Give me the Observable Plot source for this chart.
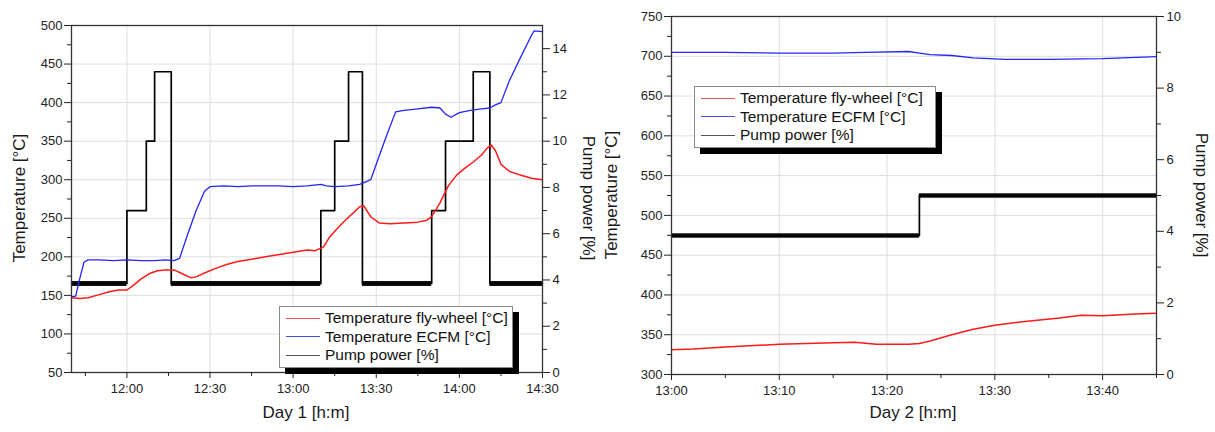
<!DOCTYPE html>
<html><head><meta charset="utf-8">
<script src="https://cdn.jsdelivr.net/npm/d3@7"></script>
<script src="https://cdn.jsdelivr.net/npm/@observablehq/plot@0.6"></script>
<style>
body{margin:0;background:#fff;font-family:"Liberation Sans",Arial,sans-serif;}
#wrap{position:relative;width:1215px;height:432px;overflow:hidden;background:#fff;}
.panel{position:absolute;top:0;}
.title{position:absolute;font-size:17px;color:#1a1a1a;white-space:nowrap;transform:translate(-50%,-50%);}
.title.rl{transform:translate(-50%,-50%) rotate(-90deg);}
.title.rr{transform:translate(-50%,-50%) rotate(90deg);}
.legend{position:absolute;box-sizing:border-box;background:#fff;border:1px solid #8a8a8a;box-shadow:6px 6px 0 #000;font-size:15.5px;color:#111;padding:2px 4px 2px 0;}
.legend .row{display:flex;align-items:center;height:18.5px;white-space:nowrap;}
.legend .sw{width:34px;height:0;border-top:1.5px solid;margin:0 5px 0 6px;}
</style></head><body><div id="wrap"></div>
<script>
// ---------- Day 1 data ----------
const day1FlyTimes = ["11:40","11:43","11:46","11:50","11:54","11:57","12:00","12:02","12:05","12:08","12:11","12:14","12:17","12:20","12:23","12:25","12:28","12:32","12:36","12:40","12:45","12:50","12:55","13:00","13:05","13:08","13:11","13:13","13:16","13:19","13:22","13:24","13:25.5","13:28","13:31","13:35","13:40","13:45","13:48","13:50","13:53","13:56","13:59","14:02","14:05","14:08","14:10","14:11.5","14:13","14:15","14:18","14:22","14:26","14:30"];
const day1FlyValues = [147,146,147,151,155,157,157,162,171,178,182,183,183,178,173,174,179,185,190,194,197,200,203,206,209,208,213,225,237,248,258,265,266,252,244,243,244,245,247,252,270,292,306,315,323,332,341,345,338,320,311,306,302,300];
const day1EcfmTimes = ["11:40","11:41.5","11:43","11:44.5","11:46","11:50","11:55","12:00","12:05","12:10","12:14","12:17","12:19","12:22","12:25","12:28","12:30","12:35","12:40","12:45","12:50","12:55","13:00","13:05","13:10","13:12","13:15","13:20","13:24","13:26","13:28","13:31","13:34","13:37","13:40","13:45","13:50","13:53","13:55","13:57","14:00","14:04","14:08","14:11","14:13","14:15","14:18","14:22","14:26","14:27","14:30"];
const day1EcfmValues = [148,149,172,193,196,196,195,196,195,195,196,195,198,230,260,285,291,292,291,292,292,292,291,292,294,292,291,292,294,297,300,330,360,388,390,392,394,393,385,381,387,390,392,393,397,400,428,458,487,493,492];
const day1PumpTimes = ["11:40","12:00","12:07","12:10","12:16","13:10","13:15","13:20","13:25","13:50","13:55","14:05","14:11","14:30"];
const day1PumpValues = [3.85,7.0,10.0,13.0,3.85,7.0,10.0,13.0,3.85,7.0,10.0,13.0,3.85,3.85];
const day1TempTicks = [50,100,150,200,250,300,350,400,450,500];
const day1PumpTicks = [0,2,4,6,8,10,12,14];
const day1TimeTicks = ["12:00","12:30","13:00","13:30","14:00","14:30"];
const day1TimeMinor = ["11:45","12:15","12:45","13:15","13:45","14:15"];

// ---------- Day 2 data ----------
const day2FlyTimes = ["13:00","13:02","13:05","13:10","13:15","13:17","13:19","13:22","13:23","13:24","13:26","13:28","13:30","13:33","13:36","13:38","13:40","13:43","13:45"];
const day2FlyValues = [331,332,334.5,338,340,340.5,338,338,339,342,350,357,362,367,371,374.5,374,376,377];
const day2EcfmTimes = ["13:00","13:05","13:10","13:15","13:18","13:22","13:23","13:24","13:26","13:28","13:31","13:35","13:40","13:45"];
const day2EcfmValues = [705,705,704,704,705,706,704,702,701,698,696,696,697,699.5];
const day2PumpTimes = ["13:00","13:23","13:45"];
const day2PumpValues = [3.88,5.0,5.0];
const day2TempTicks = [300,350,400,450,500,550,600,650,700,750];
const day2PumpTicks = [0,2,4,6,8,10];
const day2TimeTicks = ["13:00","13:10","13:20","13:30","13:40"];
const day2TimeMinor = ["13:05","13:15","13:25","13:35","13:45"];

const seriesNames = ["Temperature fly-wheel [°C]","Temperature ECFM [°C]","Pump power [%]"];
const seriesColors = ["#ff1a1a","#2424ff","#000000"];
const legendColors = ["#f05050","#4050f0","#555555"];

// ---------- helpers ----------
function T(s){const [h,m]=s.split(":");return new Date(2000,0,1,+h,0,0,Math.round(+m*60000));}
const zipS = (ts,vs) => ts.map((t,i)=>({t:T(t),v:vs[i]}));
const zipP = (ts,vs) => ts.map((t,i)=>({t:T(t),p:vs[i]}));
const mids = a => a.slice(0,-1).map((v,i)=>(v+a[i+1])/2);
const fmt = d3.timeFormat("%H:%M");

function makePanel(c){
  const [y0,y1]=c.yDom,[p0,p1]=c.pDom;
  const toT = p => y0+(p-p0)*(y1-y0)/(p1-p0);
  const fromT = t => p0+(t-y0)*(p1-p0)/(y1-y0);
  const segs=[];
  for(let i=0;i<c.pump.length-1;i++) if(c.pump[i].p<=c.bandMax) segs.push({x1:c.pump[i].t,x2:c.pump[i+1].t,y:toT(c.pump[i].p)});
  const pMinor = mids(c.pTicks);
  return Plot.plot({
    width:c.width,height:432,marginLeft:c.mL,marginRight:c.mR,marginTop:c.mT,marginBottom:c.mB,
    x:{type:"time",domain:c.xDom},
    y:{domain:c.yDom},
    style:{fontFamily:"'Liberation Sans',Arial,sans-serif",fontSize:"13px",color:"#222",background:"transparent",overflow:"visible"},
    marks:[
      Plot.gridY(c.yTicks,{stroke:"#dedede",strokeOpacity:1}),
      Plot.gridX(c.xTicks,{stroke:"#dedede",strokeOpacity:1}),
      Plot.ruleY(segs,{x1:"x1",x2:"x2",y:"y",stroke:"#111",strokeWidth:c.bandWidth}),
      Plot.line(c.pump,{x:"t",y:d=>toT(d.p),curve:"step-after",stroke:seriesColors[2],strokeWidth:1.7}),
      Plot.line(c.ecfm,{x:"t",y:"v",stroke:seriesColors[1],strokeWidth:1.3}),
      Plot.line(c.fly,{x:"t",y:"v",stroke:seriesColors[0],strokeWidth:1.5}),
      Plot.frame({stroke:"#333",strokeWidth:1.3}),
      Plot.axisY(c.yTicks,{anchor:"left",tickSize:7,tickPadding:2,label:null}),
      Plot.axisY(mids(c.yTicks),{anchor:"left",tickSize:4,tickFormat:()=>"",label:null}),
      Plot.axisY(c.pTicks.map(toT),{anchor:"right",tickSize:7,tickPadding:3,tickFormat:t=>String(Math.round(fromT(t))),label:null}),
      Plot.axisY(pMinor.map(toT),{anchor:"right",tickSize:4,tickFormat:()=>"",label:null}),
      Plot.axisX(c.xTicks,{anchor:"bottom",tickSize:6,tickPadding:5,tickFormat:fmt,label:null}),
      Plot.axisX(c.xMinor,{anchor:"bottom",tickSize:4,tickFormat:()=>"",label:null})
    ]
  });
}

const wrap=document.getElementById("wrap");
function place(el,left){el.classList.add("panel");el.style.left=left+"px";wrap.appendChild(el);}

place(makePanel({
  width:605,mL:71,mR:63,mT:25,mB:60,
  xDom:[T("11:40"),T("14:30")],yDom:[50,500],pDom:[0,15],
  yTicks:day1TempTicks,pTicks:day1PumpTicks,
  xTicks:day1TimeTicks.map(T),xMinor:day1TimeMinor.map(T),
  fly:zipS(day1FlyTimes,day1FlyValues),ecfm:zipS(day1EcfmTimes,day1EcfmValues),
  pump:zipP(day1PumpTimes,day1PumpValues),bandMax:5,bandWidth:5
}),0);

place(makePanel({
  width:610,mL:66,mR:59,mT:16,mB:58,
  xDom:[T("13:00"),T("13:45")],yDom:[300,750],pDom:[0,10],
  yTicks:day2TempTicks,pTicks:day2PumpTicks,
  xTicks:day2TimeTicks.map(T),xMinor:day2TimeMinor.map(T),
  fly:zipS(day2FlyTimes,day2FlyValues),ecfm:zipS(day2EcfmTimes,day2EcfmValues),
  pump:zipP(day2PumpTimes,day2PumpValues),bandMax:10,bandWidth:4.5
}),605);

function title(text,x,y,cls){const d=document.createElement("div");d.className="title "+(cls||"");d.textContent=text;d.style.left=x+"px";d.style.top=y+"px";wrap.appendChild(d);}
title("Temperature [°C]",20,198,"rl");
title("Pump power [%]",588,198,"rr");
title("Day 1 [h:m]",306,413);
title("Temperature [°C]",612,195,"rl");
title("Pump power [%]",1201,195,"rr");
title("Day 2 [h:m]",913,413);

function legend(x,y,w){
  const L=document.createElement("div");L.className="legend";L.style.left=x+"px";L.style.top=y+"px";L.style.width=w+"px";
  seriesNames.forEach((n,i)=>{const r=document.createElement("div");r.className="row";
    const s=document.createElement("span");s.className="sw";s.style.borderTopColor=legendColors[i];
    const t=document.createElement("span");t.textContent=n;r.appendChild(s);r.appendChild(t);L.appendChild(r);});
  wrap.appendChild(L);
}
legend(279,306,234);
legend(694,86,242);
</script></body></html>
